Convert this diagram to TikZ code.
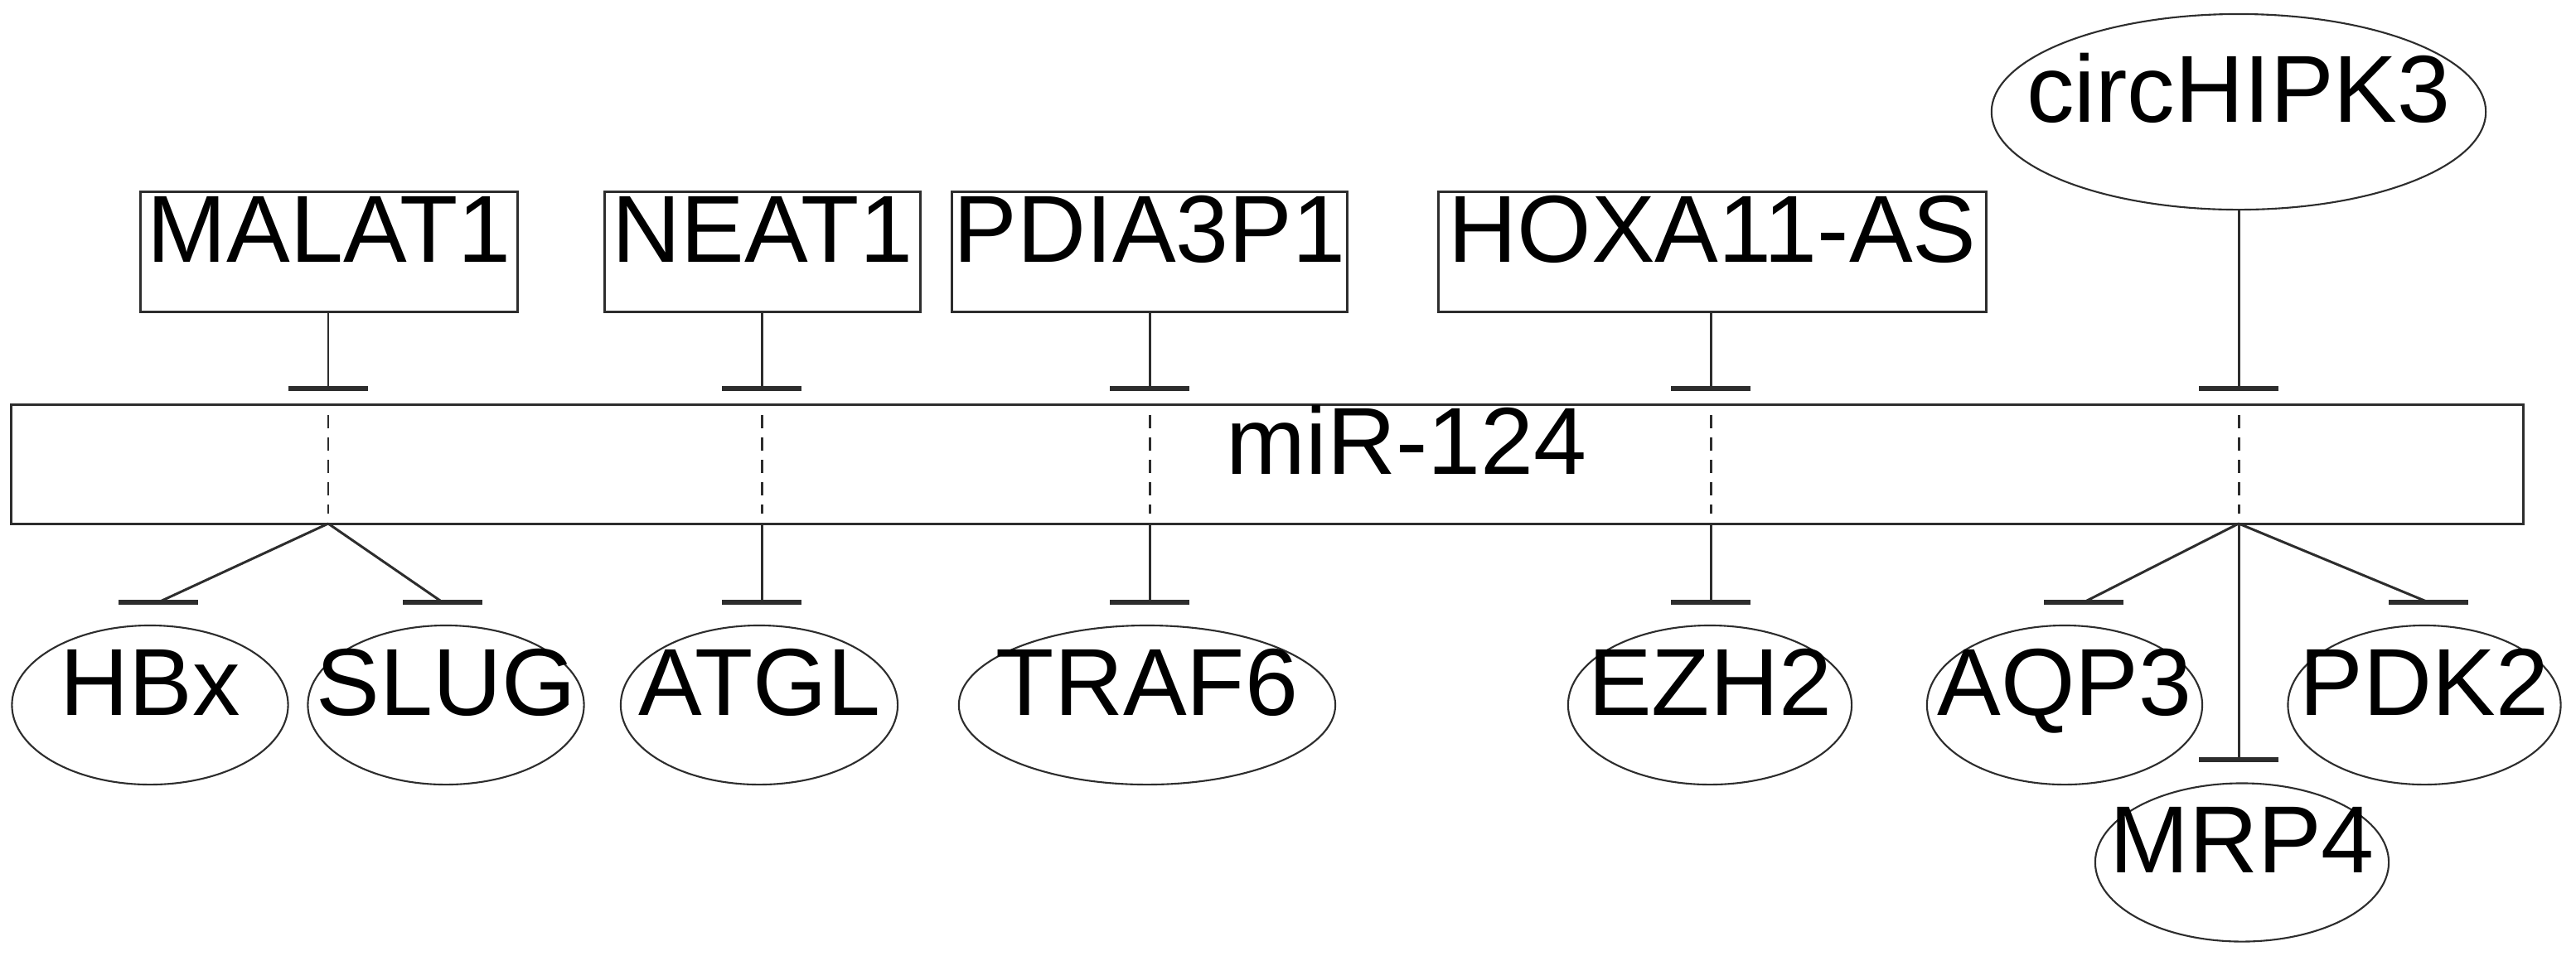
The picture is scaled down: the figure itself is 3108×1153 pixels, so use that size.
\documentclass[tikz,border=0pt]{standalone}
\usepackage{fontspec}
\setmainfont{Liberation Sans}
\usetikzlibrary{shapes.geometric,calc}
\definecolor{lc}{RGB}{45,45,45}
\newcommand{\zw}[1]{\makebox[0pt]{#1}}
\begin{document}
\begin{tikzpicture}[x=0.01cm,y=-0.01cm,
  lab/.style={font=\fontsize{32.7}{40}\selectfont, inner sep=0pt, text=black, text height=0.72em, text depth=0pt},
  boxnode/.style={lab, draw=lc, line width=0.85pt, rectangle, minimum height=1.44cm},
  ellnode/.style={lab, draw=lc, line width=0.6pt, ellipse, minimum height=1.92cm},
  conn/.style={draw=lc, line width=0.85pt},
  tbar/.style={draw=lc, line width=1.7pt},
  dsh/.style={draw=lc, line width=0.85pt, dash pattern=on 0.16cm off 0.11cm}]
\path[use as bounding box] (0,0) rectangle (3108,1153);

% central box
\node[boxnode, minimum width=30.30cm, minimum height=1.43cm] (mir) at (1529,560.5) {};
\node[lab] (mirtext) at (1697,560) {miR-124};

% upstream regulators
\node[boxnode, minimum width=4.54cm] (malat) at (397,304) {MALAT1};
\node[boxnode, minimum width=3.81cm] (neat) at (920,304) {NEAT1};
\node[boxnode, minimum width=4.77cm] (pdia) at (1387,304) {PDIA3P1};
\node[boxnode, minimum width=6.60cm] (hoxa) at (2066,304) {HOXA11-AS};
\node[ellnode, minimum width=5.96cm, minimum height=2.36cm] (circ) at (2701,135) {\zw{circHIPK3}};

% targets
\node[ellnode, minimum width=3.33cm] (hbx) at (181,851) {\zw{HBx}};
\node[ellnode, minimum width=3.33cm] (slug) at (538,851) {\zw{SLUG}};
\node[ellnode, minimum width=3.34cm] (atgl) at (916,851) {\zw{ATGL}};
\node[ellnode, minimum width=4.54cm] (traf) at (1384,851) {\zw{TRAF6}};
\node[ellnode, minimum width=3.42cm] (ezh) at (2063,851) {\zw{EZH2}};
\node[ellnode, minimum width=3.32cm] (aqp) at (2491,851) {\zw{AQP3}};
\node[ellnode, minimum width=3.29cm] (pdk) at (2925,851) {\zw{PDK2}};
\node[ellnode, minimum width=3.54cm, minimum height=1.91cm] (mrp) at (2705,1041) {\zw{MRP4}};

% bar positions above the box
\coordinate (tmal) at (396,469);
\coordinate (tneat) at (919,469);
\coordinate (tpdia) at (1387,469);
\coordinate (thoxa) at (2064,469);
\coordinate (tcirc) at (2701,469);

% junctions at the box bottom
\coordinate (jmal) at (396,632);
\coordinate (jneat) at (919,632);
\coordinate (jpdia) at (1387,632);
\coordinate (jhoxa) at (2064,632);
\coordinate (jcirc) at (2701,632);

% dashed paths through the box
\foreach \x/\n in {396/mal,919/neat,1387/pdia,2064/hoxa,2701/circ}{
  \coordinate (ds\n) at (\x,501);
  \coordinate (de\n) at (\x,620);
  \draw[dsh] (ds\n) -- (de\n);
}

% bar positions below the box
\coordinate (bhbx) at (191,727);
\coordinate (bslug) at (534,727);
\coordinate (batgl) at (919,727);
\coordinate (btraf) at (1387,727);
\coordinate (bezh) at (2064,727);
\coordinate (baqp) at (2514,727);
\coordinate (bpdk) at (2930,727);
\coordinate (bmrp) at (2701,917);

% connectors, upstream
\draw[conn] (malat.south -| tmal) -- (tmal);
\draw[conn] (neat.south -| tneat) -- (tneat);
\draw[conn] (pdia.south) -- (tpdia);
\draw[conn] (hoxa.south -| thoxa) -- (thoxa);
\draw[conn] (circ.south) -- (tcirc);

% connectors, downstream
\draw[conn] (jmal) -- (bhbx);
\draw[conn] (jmal) -- (bslug);
\draw[conn] (jneat) -- (batgl);
\draw[conn] (jpdia) -- (btraf);
\draw[conn] (jhoxa) -- (bezh);
\draw[conn] (jcirc) -- (baqp);
\draw[conn] (jcirc) -- (bpdk);
\draw[conn] (jcirc) -- (bmrp);

% inhibition bars
\foreach \c in {tmal,tneat,tpdia,thoxa,tcirc,bhbx,bslug,batgl,btraf,bezh,baqp,bpdk,bmrp}{
  \draw[tbar] ($(\c)+(-48,0)$) -- ($(\c)+(48,0)$);
}
\end{tikzpicture}
\end{document}
